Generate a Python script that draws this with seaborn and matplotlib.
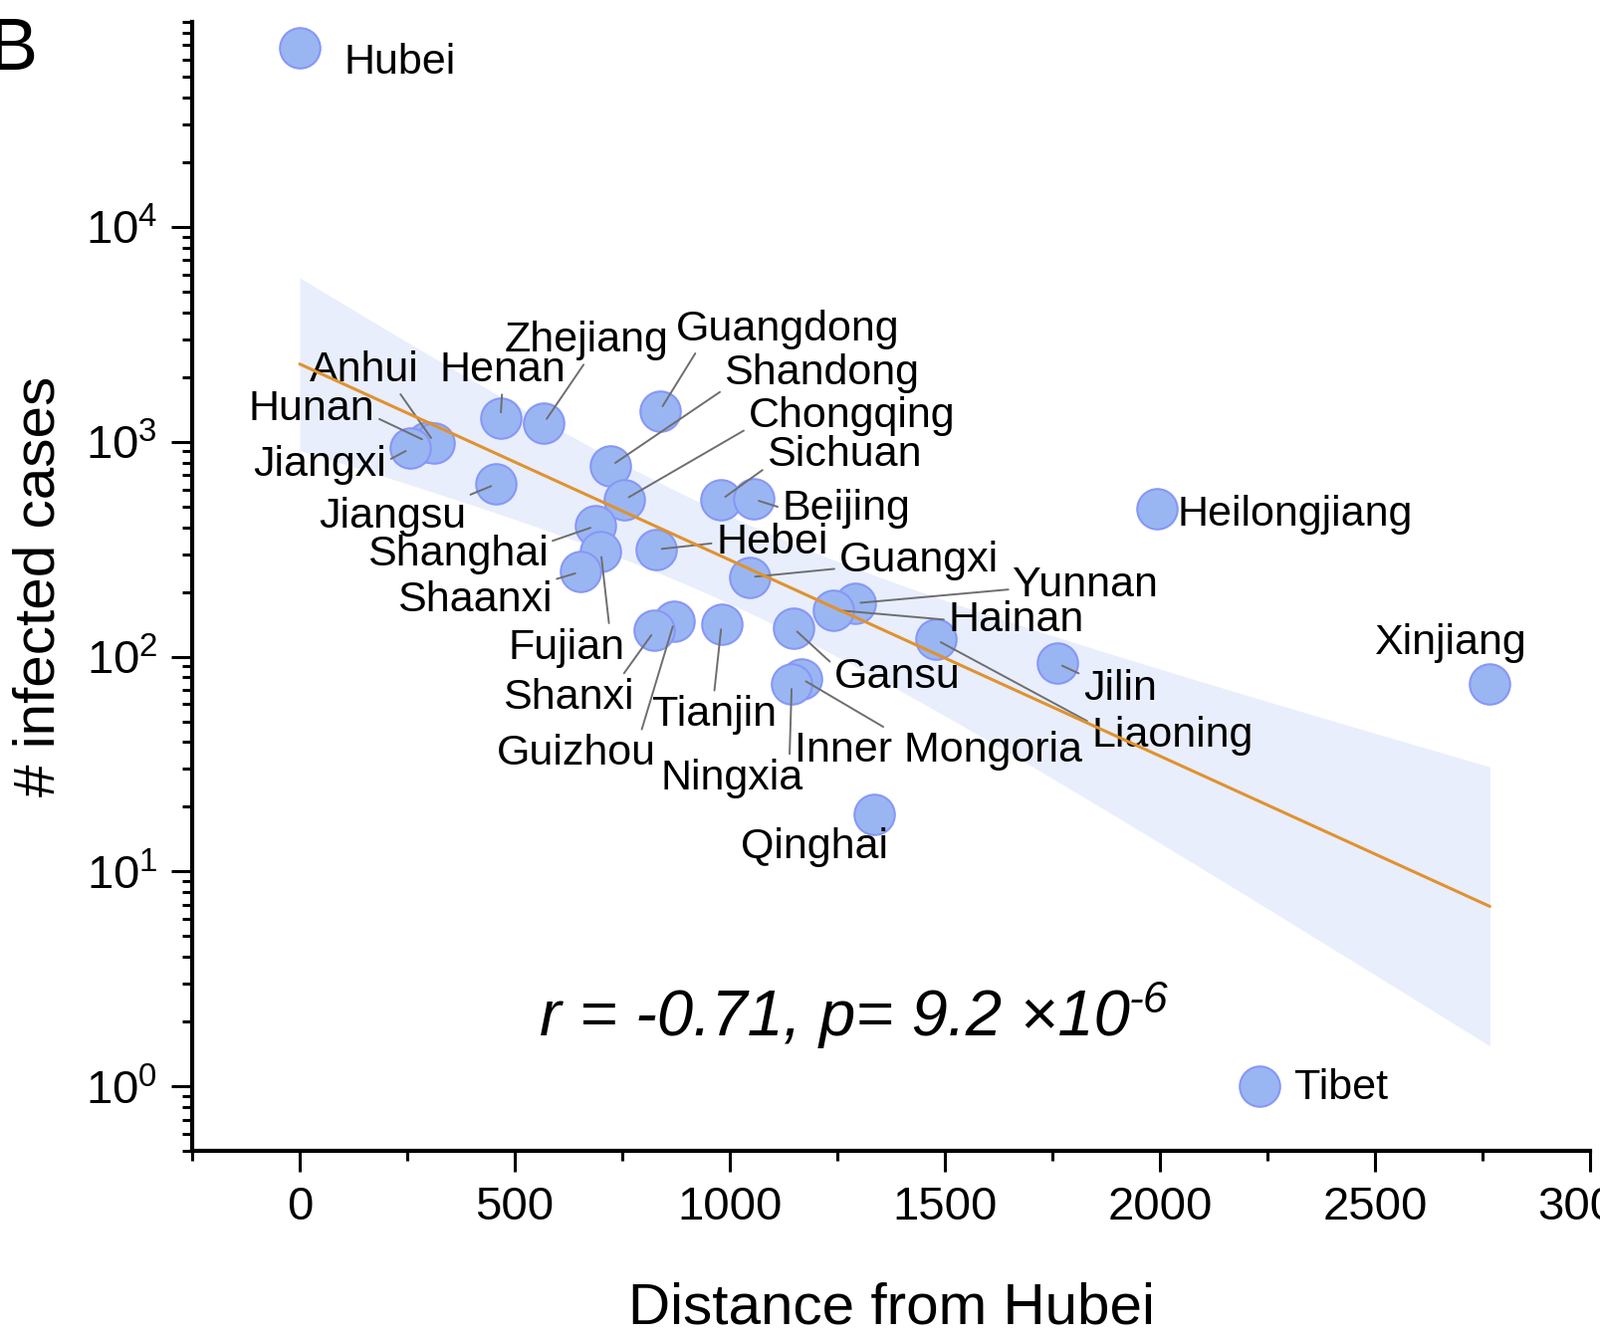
import numpy as np
import pandas as pd
import matplotlib
matplotlib.use("Agg")
import matplotlib.pyplot as plt
from matplotlib.ticker import (LogLocator, MultipleLocator, NullFormatter,
                               LogFormatterSciNotation)
import seaborn as sns

# values
provinces = ["Hubei", "Guangdong", "Henan", "Zhejiang", "Hunan", "Anhui", "Jiangxi",
             "Shandong", "Jiangsu", "Chongqing", "Sichuan", "Heilongjiang", "Beijing",
             "Shanghai", "Hebei", "Fujian", "Guangxi", "Shaanxi", "Yunnan", "Hainan",
             "Guizhou", "Tianjin", "Shanxi", "Gansu", "Liaoning", "Jilin", "Xinjiang",
             "Inner Mongoria", "Ningxia", "Qinghai", "Tibet"]
distance_km = [0, 837, 467, 567, 296, 313, 258,
               723, 457, 754, 979, 1993, 1055,
               688, 829, 700, 1046, 653, 1291, 1240,
               871, 981, 825, 1147, 1479, 1761, 2767,
               1166, 1144, 1336, 2231]
infected_cases = [67800, 1390, 1290, 1215, 1000, 990, 930,
                  770, 635, 535, 535, 490, 540,
                  405, 315, 308, 234, 248, 177, 165,
                  146, 142, 132, 136, 120, 93, 75,
                  79, 75, 18.5, 1]

# label placement: (x, y, relpos of the leader line on the text box or None)
label_pos = {
    "Hubei": (234, 58000, None),
    "Tibet": (2421, 0.98, None),
    "Xinjiang": (2674, 115, None),
    "Heilongjiang": (2314, 459, None),
    "Jilin": (1907, 70.4, (0, 0.85)),
    "Liaoning": (2029, 43, (0, 0.8)),
    "Hainan": (1666, 148, (0, 0.5)),
    "Yunnan": (1827, 215, (0, 0.4)),
    "Guangxi": (1439, 280, (0, 0.3)),
    "Gansu": (1389, 80, (0, 0.8)),
    "Inner Mongoria": (1486, 36.5, (0.33, 1)),
    "Qinghai": (1197, 13, None),
    "Ningxia": (1006, 27.1, (0.9, 1)),
    "Tianjin": (963, 53.5, (0.5, 1)),
    "Guizhou": (644, 35.3, (0.9, 1)),
    "Shanxi": (625, 64.5, (0.9, 1)),
    "Fujian": (620, 110, (0.87, 1)),
    "Shaanxi": (407, 183, (1, 1)),
    "Shanghai": (367, 299, (1, 0.8)),
    "Jiangsu": (215, 449, (1, 1)),
    "Jiangxi": (47, 777, (1, 0.6)),
    "Hunan": (28, 1420, (1, 0.3)),
    "Anhui": (151, 2155, (0.8, 0)),
    "Henan": (471, 2155, (0.5, 0)),
    "Zhejiang": (667, 2960, (0.5, 0)),
    "Guangdong": (1134, 3340, (0.1, 0)),
    "Shandong": (1214, 2084, (0, 0.1)),
    "Chongqing": (1283, 1315, (0, 0.2)),
    "Sichuan": (1266, 867, (0, 0.2)),
    "Beijing": (1271, 490, (0, 0.5)),
    "Hebei": (1098, 338, (0, 0.5)),
}

stats_text = "r = -0.71, p= 9.2 \u00d710"
stats_exp = "-6"

df = pd.DataFrame({"province": provinces, "distance": distance_km, "cases": infected_cases})
df["log_cases"] = np.log10(df["cases"])

xlim = (-250, 3000)
ylim = (0.5, 9e4)

# 95% confidence band of the log-linear fit (t quantile for n-2 = 29 dof)
fx = df["distance"].to_numpy(float)
fy = df["log_cases"].to_numpy()
n = len(fx)
slope, intercept = np.polyfit(fx, fy, 1)
s_res = np.sqrt(np.sum((fy - (intercept + slope * fx)) ** 2) / (n - 2))
sxx = np.sum((fx - fx.mean()) ** 2)
grid = np.linspace(fx.min(), fx.max(), 200)
yhat = intercept + slope * grid
half = 2.045 * s_res * np.sqrt(1 / n + (grid - fx.mean()) ** 2 / sxx)

sns.set_theme(style="ticks", rc={"xtick.color": "black", "ytick.color": "black",
                                 "axes.edgecolor": "black", "text.color": "black",
                                 "axes.labelcolor": "black"})
plt.rcParams["font.family"] = ["Liberation Sans", "DejaVu Sans"]
plt.rcParams["mathtext.fontset"] = "custom"
plt.rcParams["mathtext.rm"] = "Liberation Sans"
plt.rcParams["mathtext.it"] = "Liberation Sans:italic"

fig = plt.figure(figsize=(16.07, 13.46), dpi=100)
rect = [0.1201, 0.1409, 0.8737, 0.8430]
ax = fig.add_axes(rect, zorder=2)
ax_line = fig.add_axes(rect, zorder=3)

# fitted line drawn by seaborn on an overlay axis in log10 units
sns.regplot(data=df, x="distance", y="log_cases", ax=ax_line, scatter=False,
            ci=None, color="#E0922F", line_kws={"lw": 2.2})
ax_line.set_xlim(xlim)
ax_line.set_ylim(np.log10(ylim))
ax_line.axis("off")

ax.set_yscale("log")
ax.fill_between(grid, 10 ** (yhat - half), 10 ** (yhat + half),
                color="#E8EEFC", lw=0, zorder=1)
sns.scatterplot(data=df, x="distance", y="cases", ax=ax, s=850, color="#9AB6F2",
                edgecolor="#8797F7", linewidth=1.5, zorder=3, legend=False)

for name, xv, yv in zip(provinces, distance_km, infected_cases):
    tx, ty, rel = label_pos[name]
    if rel is None:
        ax.text(tx, ty, name, fontsize=31, ha="center", va="center", zorder=4)
    else:
        ax.annotate(name, xy=(xv, yv), xytext=(tx, ty), fontsize=31,
                    ha="center", va="center", zorder=4,
                    arrowprops=dict(arrowstyle="-", color="#6E6E6E", lw=1.4,
                                    relpos=rel, shrinkA=1, shrinkB=4))

stat = ax.text(1245, 1.72, stats_text, fontsize=47, style="italic",
               ha="center", va="baseline")
ax.annotate(stats_exp, xy=(1, 1), xycoords=stat, xytext=(-1, 6),
            textcoords="offset points", fontsize=32, style="italic",
            ha="left", va="top")

ax.set_xlim(xlim)
ax.set_ylim(ylim)
ax.xaxis.set_major_locator(MultipleLocator(500))
ax.xaxis.set_minor_locator(MultipleLocator(250))
ax.yaxis.set_major_locator(LogLocator(base=10, numticks=20))
ax.yaxis.set_minor_locator(LogLocator(base=10, subs=np.arange(2, 10), numticks=20))
ax.yaxis.set_major_formatter(LogFormatterSciNotation())
ax.yaxis.set_minor_formatter(NullFormatter())
ax.tick_params(which="major", length=15, width=2.2, labelsize=34, pad=10, direction="out")
ax.tick_params(which="minor", length=7, width=2.2, direction="out")
sns.despine(ax=ax)
for side in ("left", "bottom"):
    ax.spines[side].set_linewidth(3)

ax.set_xlabel("Distance from Hubei", fontsize=42, labelpad=38)
ax.set_ylabel("# infected cases", fontsize=42, labelpad=14)

fig.text(-0.007, 1 - 70 / 1346, "B", fontsize=53, ha="left", va="baseline")

fig.savefig("out.png", dpi=100)
